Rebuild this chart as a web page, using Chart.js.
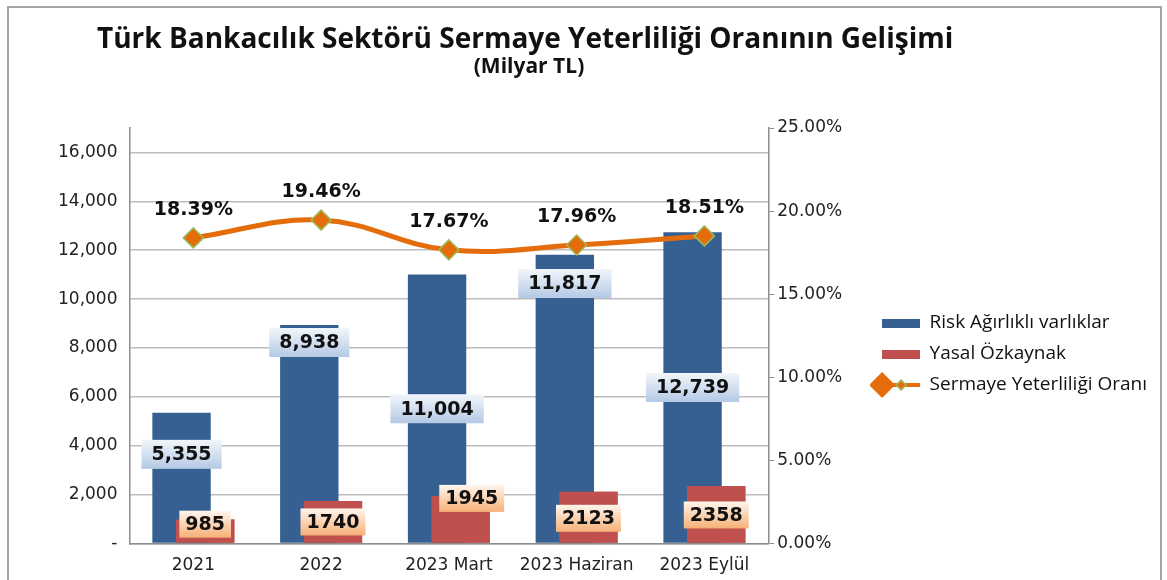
<!DOCTYPE html>
<html lang="tr">
<head>
<meta charset="utf-8">
<title>Türk Bankacılık Sektörü Sermaye Yeterliliği Oranının Gelişimi</title>
<script src="https://cdn.jsdelivr.net/npm/chart.js@4"></script>
<style>
  html, body { margin: 0; padding: 0; background: #fff; }
  #wrap { position: relative; width: 1167px; height: 580px; overflow: hidden; }
  #frame { position: absolute; left: 7px; top: 6px; width: 1151px; height: 600px; border: 2px solid #a5a5a5; }
  #title { position: absolute; left: 97px; top: 18px; font: bold 28px "Open Sans"; color: #111; white-space: nowrap; }
  #subtitle { position: absolute; left: 0; width: 1058px; top: 51px; text-align: center; font: bold 21px "Open Sans"; color: #111; }
  canvas { position: absolute; left: 0; top: 0; }
</style>
</head>
<body>
<div id="wrap">
  <div id="frame"></div>
  <canvas id="chart" width="1167" height="580"></canvas>
  <div id="title">Türk Bankacılık Sektörü Sermaye Yeterliliği Oranının Gelişimi</div>
  <div id="subtitle">(Milyar TL)</div>
</div>
<script>
  // data
  const categories = ['2021', '2022', '2023 Mart', '2023 Haziran', '2023 Eylül'];
  const riskWeighted = [5355, 8938, 11004, 11817, 12739];
  const legalEquity = [985, 1740, 1945, 2123, 2358];
  const capitalRatio = [18.39, 19.46, 17.67, 17.96, 18.51];
  const leftTicks = [0, 2000, 4000, 6000, 8000, 10000, 12000, 14000, 16000];
  const rightTicks = [0, 5, 10, 15, 20, 25];

  // where the value boxes sit: share of the bar height, counted from its top
  const blueLabelAt = [0.32, 0.08, 0.5, 0.1, 0.5];
  const redLabelAt = [0.2, 0.5, 0.05, 0.52, 0.51];
  const redLabelShift = [0, 0, 11, 0, 0];

  const BLUE = '#376092';
  const RED = '#c0504d';
  const ORANGE = '#e46c0a';
  const GREEN = '#9bbb59';
  const AXIS = '#8c8c8c';
  const GRID = '#bdbdbd';
  const TEXT = '#222';

  // legend markers
  function swatch(color) {
    const c = document.createElement('canvas');
    c.width = 38; c.height = 9;
    const g = c.getContext('2d');
    g.fillStyle = color;
    g.fillRect(0, 0, 38, 9);
    return c;
  }
  function lineSwatch() {
    const c = document.createElement('canvas');
    c.width = 76; c.height = 30;
    const g = c.getContext('2d');
    g.strokeStyle = ORANGE; g.lineWidth = 4;
    g.beginPath(); g.moveTo(19, 15); g.lineTo(57, 15); g.stroke();
    g.fillStyle = ORANGE;
    g.beginPath(); g.moveTo(19, 2); g.lineTo(32, 15); g.lineTo(19, 28); g.lineTo(6, 15); g.closePath(); g.fill();
    g.beginPath(); g.moveTo(38, 10); g.lineTo(43, 15); g.lineTo(38, 20); g.lineTo(33, 15); g.closePath(); g.fill();
    g.strokeStyle = GREEN; g.lineWidth = 1.5; g.stroke();
    return c;
  }
  const legendMarks = [swatch(BLUE), swatch(RED), lineSwatch()];

  function labelBox(c, text, x, y, padX, h, stops) {
    const w = c.measureText(text).width + padX * 2;
    const grad = c.createLinearGradient(0, y - h / 2, 0, y + h / 2);
    grad.addColorStop(0, stops[0]);
    grad.addColorStop(1, stops[1]);
    c.fillStyle = grad;
    c.fillRect(x - w / 2, y - h / 2, w, h);
    c.fillStyle = '#111';
    c.fillText(text, x, y + 1);
  }

  const valueLabels = {
    id: 'valueLabels',
    beforeDatasetDraw(chart, args) {
      // red bars sit in front of the blue ones, the line goes above both
      if (args.index === 2) chart.getDatasetMeta(1).controller.draw();
    },
    afterDatasetsDraw(chart) {
      const c = chart.ctx;
      const blue = chart.getDatasetMeta(0).data;
      const red = chart.getDatasetMeta(1).data;
      const pts = chart.getDatasetMeta(2).data;
      c.save();
      c.textAlign = 'center';
      c.textBaseline = 'middle';
      c.font = 'bold 19px "DejaVu Sans"';
      blue.forEach((bar, i) => {
        const y = bar.y + (bar.base - bar.y) * blueLabelAt[i];
        labelBox(c, riskWeighted[i].toLocaleString('en-US'), bar.x, y, 10, 29, ['#f2f6fb', '#b4c9e5']);
      });
      red.forEach((bar, i) => {
        const y = bar.y + (bar.base - bar.y) * redLabelAt[i];
        labelBox(c, String(legalEquity[i]), bar.x + redLabelShift[i], y, 6, 27, ['#fff6ee', '#f7b077']);
      });
      c.fillStyle = '#111';
      pts.forEach((p, i) => {
        c.fillText(capitalRatio[i].toFixed(2) + '%', p.x, p.y - 28);
      });
      c.restore();
    }
  };

  const tickFont = { family: 'DejaVu Sans', size: 17 };

  new Chart(document.getElementById('chart'), {
    type: 'bar',
    data: {
      labels: categories,
      datasets: [
        {
          label: 'Risk Ağırlıklı varlıklar',
          data: riskWeighted,
          backgroundColor: BLUE,
          yAxisID: 'y',
          categoryPercentage: 0.37,
          barPercentage: 2.47
        },
        {
          label: 'Yasal Özkaynak',
          data: legalEquity,
          backgroundColor: RED,
          yAxisID: 'y',
          categoryPercentage: 0.37,
          barPercentage: 2.47
        },
        {
          type: 'line',
          label: 'Sermaye Yeterliliği Oranı',
          data: capitalRatio,
          yAxisID: 'y1',
          order: -1,
          borderColor: ORANGE,
          backgroundColor: ORANGE,
          borderWidth: 5,
          tension: 0.4,
          pointStyle: 'rectRot',
          pointRadius: 10,
          pointBackgroundColor: ORANGE,
          pointBorderColor: GREEN,
          pointBorderWidth: 1.5
        }
      ]
    },
    options: {
      responsive: false,
      animation: false,
      layout: { padding: { left: 46, right: 10, top: 128, bottom: 0 } },
      plugins: {
        tooltip: { enabled: false },
        legend: {
          position: 'right',
          maxWidth: 320,
          labels: {
            usePointStyle: true,
            pointStyleWidth: 38,
            boxHeight: 9,
            padding: 12,
            color: '#111',
            font: { family: 'Open Sans', size: 19 },
            generateLabels(chart) {
              const items = Chart.defaults.plugins.legend.labels.generateLabels(chart);
              items.sort((a, b) => a.datasetIndex - b.datasetIndex);
              items.forEach(it => { it.pointStyle = legendMarks[it.datasetIndex]; });
              return items;
            }
          }
        }
      },
      scales: {
        x: {
          offset: true,
          grid: { display: false },
          border: { color: AXIS, width: 1.5 },
          ticks: { color: TEXT, font: tickFont, padding: 4 }
        },
        y: {
          position: 'left',
          min: 0,
          max: 17000,
          afterBuildTicks: ax => { ax.ticks = leftTicks.map(v => ({ value: v })); },
          grid: { color: GRID, lineWidth: 1.5, drawTicks: false },
          border: { color: AXIS, width: 1.5 },
          ticks: {
            color: TEXT,
            font: tickFont,
            padding: 12,
            callback: v => v === 0 ? '-' : v.toLocaleString('en-US')
          }
        },
        y1: {
          position: 'right',
          min: 0,
          max: 25,
          afterBuildTicks: ax => { ax.ticks = rightTicks.map(v => ({ value: v })); },
          afterFit: ax => { ax.width += 25; },
          grid: { drawOnChartArea: false, color: AXIS, tickLength: 6 },
          border: { color: AXIS, width: 1.5 },
          ticks: {
            color: TEXT,
            font: tickFont,
            padding: 3,
            callback: v => v.toFixed(2) + '%'
          }
        }
      }
    },
    plugins: [valueLabels]
  });
</script>
</body>
</html>
